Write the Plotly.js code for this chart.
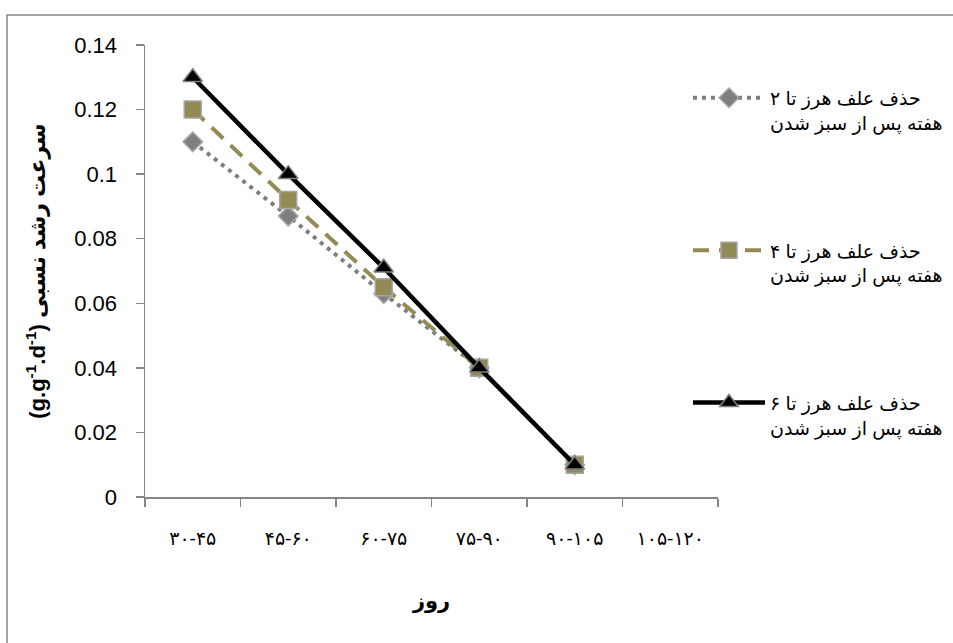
<!DOCTYPE html>
<html><head><meta charset="utf-8">
<script src="https://cdn.plot.ly/plotly-3.0.1.min.js"></script>
<style>html,body{margin:0;padding:0;background:#fff}</style>
</head><body>
<div id="chart" style="width:953px;height:643px"></div>
<script>
var categories = ["۳۰-۴۵", "۴۵-۶۰", "۶۰-۷۵", "۷۵-۹۰", "۹۰-۱۰۵", "۱۰۵-۱۲۰"];
var seriesNames = [
  "حذف علف هرز تا ۲<br>هفته پس از سبز شدن",
  "حذف علف هرز تا ۴<br>هفته پس از سبز شدن",
  "حذف علف هرز تا ۶<br>هفته پس از سبز شدن"
];
var week2 = [0.110, 0.087, 0.063, 0.040, 0.010];
var week4 = [0.120, 0.092, 0.065, 0.040, 0.010];
var week6 = [0.130, 0.100, 0.071, 0.040, 0.010];
var yTitle = "(g.g<sup>-1</sup>.d<sup>-1</sup>) سرعت رشد نسبی";
var xTitle = "روز";

var xs = categories.slice(0, 5);
var traces = [
  {x: xs, y: week2, name: seriesNames[0], legendgroup: "a", type: "scatter", mode: "lines+markers",
   line: {color: "#7f7f7f", width: 4, dash: "4px,5px"},
   marker: {symbol: "diamond", size: 15, color: "#7f7f7f", line: {color: "#a6a6a6", width: 1.5}}},
  {x: xs, y: week4, name: seriesNames[1], legendgroup: "b", type: "scatter", mode: "lines+markers",
   line: {color: "#948a54", width: 4, dash: "16px,10px"},
   marker: {symbol: "square", size: 17, color: "#948a54", line: {color: "#a6a6a6", width: 1.5}}},
  {x: xs, y: week6, name: seriesNames[2], legendgroup: "c", type: "scatter", mode: "lines+markers",
   line: {color: "#000000", width: 4.5},
   marker: {symbol: "triangle-up", size: 17, color: "#000000", line: {color: "#7f7f7f", width: 1.5}}}
];

var font = "Liberation Sans, DejaVu Sans, Arial, sans-serif";
var layout = {
  width: 953, height: 643,
  margin: {l: 145, r: 235, t: 45, b: 146, autoexpand: false},
  paper_bgcolor: "#fff", plot_bgcolor: "#fff",
  font: {family: font, size: 18, color: "#000"},
  showlegend: true,
  legend: {x: 0.9476, xanchor: "left", y: 0.925, yanchor: "top", valign: "top",
           tracegroupgap: 100, traceorder: "grouped", itemwidth: 72,
           font: {family: font, size: 19, color: "#000"}, bgcolor: "rgba(0,0,0,0)"},
  xaxis: {type: "category", categoryorder: "array", categoryarray: categories,
          range: [-0.5, 5.5], showgrid: false, zeroline: false,
          showline: true, linecolor: "#868686", linewidth: 1.5,
          ticks: "outside", tickson: "boundaries", ticklen: 8, tickcolor: "#868686", tickwidth: 1.5,
          ticklabelstandoff: 24,
          tickfont: {family: font, size: 19, color: "#000"},
          title: {text: "<b>" + xTitle + "</b>", standoff: 45,
                  font: {family: font, size: 21, color: "#000"}}},
  yaxis: {range: [0, 0.14], dtick: 0.02, showgrid: false, zeroline: false,
          showline: true, linecolor: "#868686", linewidth: 1.5,
          ticks: "outside", ticklen: 8, tickcolor: "#868686", tickwidth: 1.5,
          ticklabelstandoff: 14,
          tickfont: {family: "Liberation Sans, sans-serif", size: 22, color: "#000"},
          title: {text: "<b>" + yTitle + "</b>", standoff: 22,
                  font: {family: font, size: 22, color: "#000"}}},
  shapes: [
    {type: "rect", xref: "paper", yref: "paper", x0: -0.2408, x1: 1.4223, y0: -0.3385, y1: 1.0664,
     line: {color: "#868686", width: 1.5}, fillcolor: "rgba(0,0,0,0)", layer: "below"}
  ]
};
Plotly.newPlot("chart", traces, layout, {displayModeBar: false, staticPlot: true});
</script>
</body></html>
